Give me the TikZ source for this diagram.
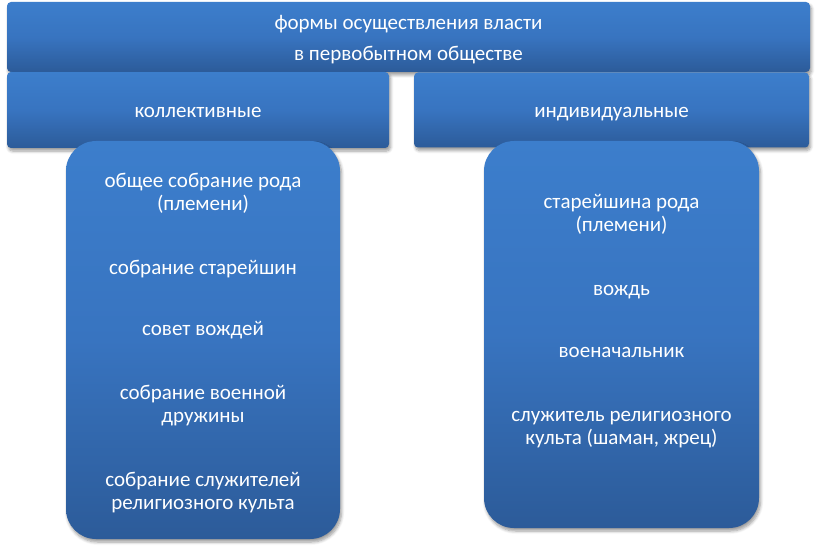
\documentclass[tikz,border=0pt]{standalone}
\usepackage{fontspec}
\setmainfont{Carlito}
\usetikzlibrary{shadows,shadows.blur,shadings}
\definecolor{btop}{RGB}{60,126,204}
\definecolor{bmid}{RGB}{56,116,192}
\definecolor{bbot}{RGB}{44,91,153}
\tikzset{
  bluebox/.style={rectangle, inner sep=0pt, draw=none, rounded corners=4pt,
    top color=btop, bottom color=bbot, middle color=bmid,
    blur shadow={shadow xshift=1.5pt, shadow yshift=-3pt, shadow blur steps=6, shadow blur radius=3pt}},
  roundbox/.style={bluebox, rounded corners=30pt},
  lbl/.style={text=white, font=\fontsize{21}{23}\selectfont, align=center, inner sep=0pt,
    text height=1ex, text depth=0pt}
}
\begin{document}
\begin{tikzpicture}[x=1pt,y=-1pt]
\useasboundingbox (0,0) rectangle (817,548);
\node[bluebox, minimum width=803pt, minimum height=70pt] (top) at (408.5,37) {};
\node[bluebox, minimum width=382pt, minimum height=76pt] (coll) at (198,110) {};
\node[bluebox, minimum width=395pt, minimum height=75pt] (ind) at (611.5,110) {};
\node[roundbox, minimum width=274pt, minimum height=398pt] (lbox) at (203,340) {};
\node[roundbox, minimum width=275pt, minimum height=387pt] (rbox) at (621.5,334.5) {};

\node[lbl] (t1) at (408.5,27.5) {формы осуществления власти};
\node[lbl] (t2) at (408.5,58.5) {в первобытном обществе};
\node[lbl] (c) at (198,115.5) {коллективные};
\node[lbl] (i) at (611.5,115.5) {индивидуальные};

\node[lbl] (l1) at (203,208.5) {общее собрание рода\\(племени)};
\node[lbl] (l2) at (203,272.5) {собрание старейшин};
\node[lbl] (l3) at (203,333.5) {совет вождей};
\node[lbl] (l4) at (203,420.5) {собрание военной\\дружины};
\node[lbl] (l5) at (203,507.5) {собрание служителей\\религиозного культа};

\node[lbl] (r1) at (621.5,229.5) {старейшина рода\\(племени)};
\node[lbl] (r2) at (621.5,293.5) {вождь};
\node[lbl] (r3) at (621.5,355.5) {военачальник};
\node[lbl] (r4) at (621.5,442.5) {служитель религиозного\\культа (шаман, жрец)};
\end{tikzpicture}
\end{document}
